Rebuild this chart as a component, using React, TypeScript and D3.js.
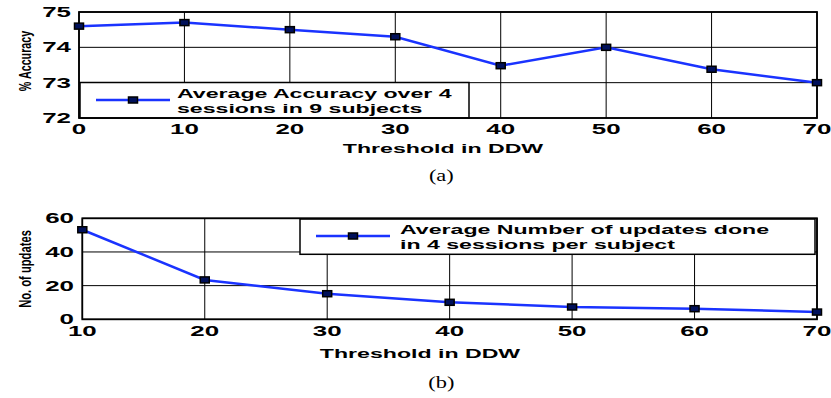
import React from "react";
import * as d3 from "d3";

const thresholdsA = [0, 10, 20, 30, 40, 50, 60, 70];
const accuracy = [74.6, 74.7, 74.5, 74.3, 73.48, 74.0, 73.38, 73.0];
const yTicksA = [72, 73, 74, 75];
const legendA = ["Average Accuracy over 4", "sessions in 9 subjects"];

const thresholdsB = [10, 20, 30, 40, 50, 60, 70];
const updates = [53.2, 23.4, 15.2, 10.1, 7.3, 6.3, 4.3];
const yTicksB = [0, 20, 40, 60];
const legendB = ["Average Number of updates done", "in 4 sessions per subject"];

const xLabel = "Threshold in DDW";
const BLUE = "#1a33ff";
const SX = 1.85;
const SANS = "'Liberation Sans', Arial, Helvetica, sans-serif";
const SERIF = "'Liberation Serif', 'Times New Roman', serif";

function ST({ x, y, text, size, anchor = "start", sx = SX, weight = "bold" }: any) {
  return (
    <text
      transform={`translate(${x},${y}) scale(${sx},1)`}
      textAnchor={anchor}
      fontFamily={SANS}
      fontWeight={weight}
      fontSize={size}
      fill="#000"
    >
      {text}
    </text>
  );
}

function Panel({ xs, ys, xDomain, yDomain, yTicks, left, right, top, bottom, yLabel, yLabelX, yLabelY, yLabelSx, legend, lg, caption, captionY, xLabelX, xLabelY, yTickRight, xTickBase }: any) {
  const x = d3.scaleLinear().domain(xDomain).range([left, right]);
  const y = d3.scaleLinear().domain(yDomain).range([bottom, top]);
  const line = d3.line<number>().x((_, i) => x(xs[i])).y((d) => y(d));
  return (
    <g>
      {xs.map((t: number) => (
        <line key={"gx" + t} x1={x(t)} x2={x(t)} y1={top} y2={bottom} stroke="#000" strokeWidth={1} />
      ))}
      {yTicks.map((t: number) => (
        <line key={"gy" + t} x1={left} x2={right} y1={y(t)} y2={y(t)} stroke="#000" strokeWidth={1} />
      ))}
      <rect x={lg.x} y={lg.y} width={lg.w} height={lg.h} fill="#fff" stroke="#000" strokeWidth={1.5} />
      <line x1={lg.x + 16} x2={lg.x + 90} y1={lg.my} y2={lg.my} stroke={BLUE} strokeWidth={2.5} />
      <rect x={lg.x + 53 - 4.5} y={lg.my - 3} width={9} height={6} fill="#00105a" stroke="#000" strokeWidth={1.5} />
      <ST x={lg.tx} y={lg.b1} text={legend[0]} size={12.5} />
      <ST x={lg.tx} y={lg.b2} text={legend[1]} size={12.5} />
      <rect x={left} y={top} width={right - left} height={bottom - top} fill="none" stroke="#000" strokeWidth={1.8} />
      <path d={line(ys) || ""} fill="none" stroke={BLUE} strokeWidth={2.5} />
      {ys.map((v: number, i: number) => (
        <rect key={"m" + i} x={x(xs[i]) - 4.5} y={y(v) - 3} width={9} height={6} fill="#00105a" stroke="#000" strokeWidth={1.5} />
      ))}
      {yTicks.map((t: number) => (
        <ST key={"yt" + t} x={yTickRight} y={y(t) + 5} text={String(t)} size={14} anchor="end" />
      ))}
      {xs.map((t: number) => (
        <ST key={"xt" + t} x={x(t)} y={xTickBase} text={String(t)} size={14} anchor="middle" />
      ))}
      <ST x={xLabelX} y={xLabelY} text={xLabel} size={12.5} anchor="middle" />
      <text
        transform={`translate(${yLabelX},${yLabelY}) rotate(-90) scale(${yLabelSx},1)`}
        textAnchor="middle"
        fontFamily={SANS}
        fontWeight="bold"
        fontSize={16}
        fill="#000"
      >
        {yLabel}
      </text>
      <text
        transform={`translate(441.3,${captionY}) scale(1.4,1)`}
        textAnchor="middle"
        fontFamily={SERIF}
        fontSize={16}
        fill="#000"
      >
        {caption}
      </text>
    </g>
  );
}

export default function App() {
  return (
    <svg width={831} height={398} style={{ position: "absolute", left: 0, top: 0, background: "#fff" }}>
      <Panel
        xs={thresholdsA}
        ys={accuracy}
        xDomain={[0, 70]}
        yDomain={[72, 75]}
        yTicks={yTicksA}
        left={79}
        right={817}
        top={12}
        bottom={118}
        yLabel="% Accuracy"
        yLabelX={31}
        yLabelY={61}
        yLabelSx={0.67}
        legend={legendA}
        lg={{ x: 80, y: 82.5, w: 389, h: 35.5, my: 100, tx: 177, b1: 98, b2: 112.5 }}
        caption="(a)"
        captionY={181}
        xLabelX={443}
        xLabelY={153}
        yTickRight={71}
        xTickBase={134}
      />
      <Panel
        xs={thresholdsB}
        ys={updates}
        xDomain={[10, 70]}
        yDomain={[0, 60]}
        yTicks={yTicksB}
        left={82.3}
        right={817}
        top={218.3}
        bottom={319.3}
        yLabel="No. of updates"
        yLabelX={31}
        yLabelY={269}
        yLabelSx={0.7}
        legend={legendB}
        lg={{ x: 300, y: 219, w: 515, h: 35.3, my: 236, tx: 400, b1: 234.3, b2: 248.5 }}
        caption="(b)"
        captionY={388}
        xLabelX={420}
        xLabelY={358}
        yTickRight={74}
        xTickBase={335.5}
      />
    </svg>
  );
}
